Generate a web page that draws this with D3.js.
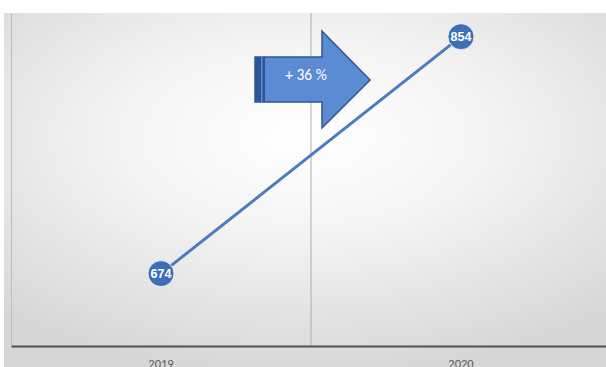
<!DOCTYPE html>
<html><head><meta charset="utf-8">
<script src="https://cdn.jsdelivr.net/npm/d3@7"></script>
<style>html,body{margin:0;padding:0;background:#fff;overflow:hidden}</style>
</head><body>
<svg id="c" width="606" height="367"></svg>
<script>
const categories = ["2019", "2020"];
const values = [674, 854];
const changeLabel = ["+ 36 %"];

const W = 606, H = 367;
const svg = d3.select("#c");
const defs = svg.append("defs");
const rg = defs.append("radialGradient").attr("id","bg").attr("cx","50%").attr("cy","35%").attr("r","75%")
  .attr("gradientTransform","translate(0.5,0.35) scale(1,0.9) translate(-0.5,-0.35)");
rg.append("stop").attr("offset","0%").attr("stop-color","#ffffff");
rg.append("stop").attr("offset","40%").attr("stop-color","#f4f4f4");
rg.append("stop").attr("offset","100%").attr("stop-color","#d6d6d6");
svg.append("rect").attr("x",4).attr("y",13).attr("width",W-4).attr("height",H-13).attr("fill","url(#bg)");

const x = d3.scaleBand().domain(categories).range([11, 611]).padding(0);
const y = d3.scaleLinear().domain([619, 872]).range([346, 13]);

// left axis line
const ya = svg.append("g").attr("transform","translate(11,0)").call(d3.axisLeft(y).tickValues([]).tickSizeOuter(0));
ya.select(".domain").attr("stroke","#bdbdbd").attr("stroke-width",1);

// category divider
svg.append("line").attr("x1",x("2020")).attr("x2",x("2020")).attr("y1",13).attr("y2",346)
  .attr("stroke","#adadad").attr("stroke-width",1);

// bottom axis
const xa = svg.append("g").attr("transform","translate(0,346)").call(d3.axisBottom(x).tickSize(0).tickSizeOuter(0).tickPadding(13));
xa.select(".domain").attr("stroke","#505050").attr("stroke-width",2);
xa.selectAll("text").attr("font-family","Carlito, Calibri, 'Open Sans', sans-serif").attr("font-size",12.5).attr("fill","#595959");

// line
const pts = categories.map((c,i)=>({c, v: values[i]}));
svg.append("path").datum(pts)
  .attr("d", d3.line().x(d=>x(d.c)+x.bandwidth()/2).y(d=>y(d.v)))
  .attr("fill","none").attr("stroke","#4a7cc0").attr("stroke-width",3);

const g = svg.selectAll(".pt").data(pts).enter().append("g")
  .attr("transform", d=>`translate(${x(d.c)+x.bandwidth()/2},${y(d.v)})`);
g.append("circle").attr("r",13).attr("fill","#3e6fb6").attr("stroke","#ffffff").attr("stroke-width",0.8);
g.append("text").text(d=>d.v).attr("text-anchor","middle").attr("dy","0.36em")
  .attr("font-family","'Liberation Sans Narrow', 'Liberation Sans', sans-serif").attr("font-weight","bold")
  .attr("font-size",12.5).attr("fill","#ffffff");

// arrow annotation
const ag = svg.append("g");
const arrowPath = "M255,57 L322,57 L322,31 L370,80 L322,128 L322,102 L255,102 Z";
ag.append("path").attr("d",arrowPath).attr("fill","#5b8cd3").attr("stroke","#2f5594").attr("stroke-width",1.5).attr("stroke-linejoin","miter");
ag.append("rect").attr("x",255).attr("y",57).attr("width",10).attr("height",45).attr("fill","#2f5594");
ag.append("rect").attr("x",261).attr("y",57).attr("width",1.5).attr("height",45).attr("fill","#5b8cd3");
ag.append("text").text(changeLabel[0]).attr("x",306).attr("y",80).attr("text-anchor","middle")
  .attr("font-family","Carlito, Calibri, 'Open Sans', sans-serif").attr("font-size",15.5).attr("fill","#ffffff");
</script>
</body></html>
